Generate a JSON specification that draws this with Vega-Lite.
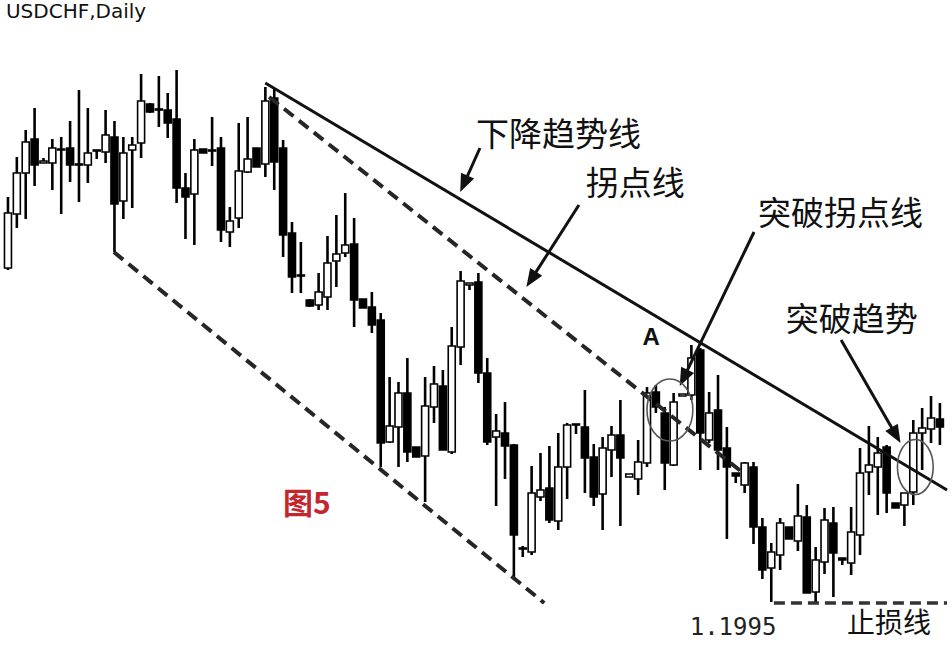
{
  "$schema": "https://vega.github.io/schema/vega-lite/v6.json",
  "width": 952,
  "height": 656,
  "padding": 0,
  "autosize": {"type": "none"},
  "background": "#ffffff",
  "config": {"view": {"stroke": null}},
  "datasets": {
    "candles": [
      {"d":0,"o":1.3670,"h":1.4025,"l":1.3660,"c":1.3945},
      {"d":1,"o":1.3940,"h":1.4225,"l":1.3870,"c":1.4145},
      {"d":2,"o":1.4145,"h":1.4360,"l":1.3915,"c":1.4300},
      {"d":3,"o":1.4315,"h":1.4470,"l":1.4080,"c":1.4185},
      {"d":4,"o":1.4195,"h":1.4220,"l":1.4195,"c":1.4205},
      {"d":5,"o":1.4195,"h":1.4315,"l":1.4060,"c":1.4270},
      {"d":6,"o":1.4260,"h":1.4325,"l":1.3940,"c":1.4265},
      {"d":7,"o":1.4270,"h":1.4405,"l":1.4100,"c":1.4185},
      {"d":8,"o":1.4190,"h":1.4560,"l":1.4000,"c":1.4185},
      {"d":9,"o":1.4185,"h":1.4470,"l":1.4095,"c":1.4245},
      {"d":10,"o":1.4255,"h":1.4260,"l":1.4215,"c":1.4260},
      {"d":11,"o":1.4250,"h":1.4460,"l":1.4195,"c":1.4335},
      {"d":12,"o":1.4325,"h":1.4405,"l":1.3750,"c":1.3990},
      {"d":13,"o":1.4005,"h":1.4325,"l":1.3915,"c":1.4245},
      {"d":14,"o":1.4260,"h":1.4325,"l":1.3970,"c":1.4285},
      {"d":15,"o":1.4295,"h":1.4640,"l":1.4220,"c":1.4505},
      {"d":16,"o":1.4490,"h":1.4495,"l":1.4445,"c":1.4450},
      {"d":17,"o":1.4465,"h":1.4630,"l":1.4375,"c":1.4460},
      {"d":18,"o":1.4460,"h":1.4545,"l":1.4320,"c":1.4395},
      {"d":19,"o":1.4415,"h":1.4660,"l":1.3995,"c":1.4070},
      {"d":20,"o":1.4070,"h":1.4145,"l":1.3815,"c":1.4025},
      {"d":21,"o":1.4040,"h":1.4315,"l":1.3785,"c":1.4260},
      {"d":22,"o":1.4265,"h":1.4265,"l":1.4245,"c":1.4245},
      {"d":23,"o":1.4255,"h":1.4425,"l":1.4180,"c":1.4260},
      {"d":24,"o":1.4270,"h":1.4325,"l":1.3800,"c":1.3860},
      {"d":25,"o":1.3850,"h":1.3975,"l":1.3775,"c":1.3905},
      {"d":26,"o":1.3920,"h":1.4395,"l":1.3870,"c":1.4155},
      {"d":27,"o":1.4150,"h":1.4425,"l":1.4145,"c":1.4215},
      {"d":28,"o":1.4270,"h":1.4270,"l":1.4175,"c":1.4175},
      {"d":29,"o":1.4190,"h":1.4575,"l":1.4125,"c":1.4505},
      {"d":30,"o":1.4520,"h":1.4565,"l":1.4060,"c":1.4200},
      {"d":31,"o":1.4270,"h":1.4310,"l":1.3725,"c":1.3835},
      {"d":32,"o":1.3845,"h":1.3900,"l":1.3545,"c":1.3625},
      {"d":33,"o":1.3630,"h":1.3800,"l":1.3545,"c":1.3635},
      {"d":34,"o":1.3510,"h":1.3515,"l":1.3475,"c":1.3480},
      {"d":35,"o":1.3485,"h":1.3645,"l":1.3460,"c":1.3550},
      {"d":36,"o":1.3525,"h":1.3830,"l":1.3460,"c":1.3695},
      {"d":37,"o":1.3705,"h":1.3935,"l":1.3575,"c":1.3740},
      {"d":38,"o":1.3745,"h":1.4045,"l":1.3725,"c":1.3785},
      {"d":39,"o":1.3790,"h":1.3920,"l":1.3375,"c":1.3510},
      {"d":40,"o":1.3515,"h":1.3515,"l":1.3470,"c":1.3470},
      {"d":41,"o":1.3475,"h":1.3550,"l":1.3345,"c":1.3385},
      {"d":42,"o":1.3410,"h":1.3445,"l":1.2675,"c":1.2795},
      {"d":43,"o":1.2800,"h":1.3125,"l":1.2795,"c":1.2880},
      {"d":44,"o":1.2875,"h":1.3100,"l":1.2675,"c":1.3045},
      {"d":45,"o":1.3045,"h":1.3220,"l":1.2700,"c":1.2750},
      {"d":46,"o":1.2775,"h":1.2775,"l":1.2725,"c":1.2725},
      {"d":47,"o":1.2730,"h":1.3125,"l":1.2500,"c":1.2980},
      {"d":48,"o":1.2975,"h":1.3180,"l":1.2895,"c":1.3090},
      {"d":49,"o":1.3080,"h":1.3160,"l":1.2760,"c":1.2760},
      {"d":50,"o":1.2750,"h":1.3375,"l":1.2740,"c":1.3280},
      {"d":51,"o":1.3275,"h":1.3655,"l":1.3185,"c":1.3605},
      {"d":52,"o":1.3585,"h":1.3595,"l":1.3560,"c":1.3595},
      {"d":53,"o":1.3600,"h":1.3645,"l":1.3095,"c":1.3145},
      {"d":54,"o":1.3145,"h":1.3220,"l":1.2785,"c":1.2800},
      {"d":55,"o":1.2825,"h":1.2940,"l":1.2480,"c":1.2855},
      {"d":56,"o":1.2845,"h":1.3000,"l":1.2615,"c":1.2780},
      {"d":57,"o":1.2785,"h":1.2790,"l":1.2125,"c":1.2335},
      {"d":58,"o":1.2265,"h":1.2280,"l":1.2225,"c":1.2270},
      {"d":59,"o":1.2250,"h":1.2680,"l":1.2235,"c":1.2545},
      {"d":60,"o":1.2525,"h":1.2745,"l":1.2505,"c":1.2560},
      {"d":61,"o":1.2570,"h":1.2780,"l":1.2395,"c":1.2410},
      {"d":62,"o":1.2405,"h":1.2845,"l":1.2360,"c":1.2675},
      {"d":63,"o":1.2675,"h":1.2895,"l":1.2515,"c":1.2885},
      {"d":64,"o":1.2885,"h":1.2890,"l":1.2840,"c":1.2890},
      {"d":65,"o":1.2875,"h":1.3060,"l":1.2545,"c":1.2720},
      {"d":66,"o":1.2725,"h":1.2790,"l":1.2480,"c":1.2525},
      {"d":67,"o":1.2540,"h":1.2825,"l":1.2360,"c":1.2770},
      {"d":68,"o":1.2760,"h":1.2880,"l":1.2625,"c":1.2835},
      {"d":69,"o":1.2835,"h":1.3010,"l":1.2380,"c":1.2720},
      {"d":70,"o":1.2625,"h":1.2640,"l":1.2625,"c":1.2640},
      {"d":71,"o":1.2615,"h":1.2810,"l":1.2535,"c":1.2700},
      {"d":72,"o":1.2695,"h":1.3075,"l":1.2675,"c":1.3045},
      {"d":73,"o":1.3050,"h":1.3085,"l":1.2945,"c":1.2975},
      {"d":74,"o":1.2945,"h":1.2975,"l":1.2560,"c":1.2695},
      {"d":75,"o":1.2685,"h":1.3045,"l":1.2680,"c":1.3000},
      {"d":76,"o":1.3030,"h":1.3040,"l":1.3030,"c":1.3040},
      {"d":77,"o":1.3035,"h":1.3285,"l":1.3010,"c":1.3220},
      {"d":78,"o":1.3260,"h":1.3270,"l":1.2660,"c":1.2845},
      {"d":79,"o":1.2810,"h":1.3050,"l":1.2795,"c":1.2945},
      {"d":80,"o":1.2960,"h":1.3135,"l":1.2660,"c":1.2760},
      {"d":81,"o":1.2770,"h":1.2875,"l":1.2315,"c":1.2675},
      {"d":82,"o":1.2645,"h":1.2645,"l":1.2595,"c":1.2630},
      {"d":83,"o":1.2585,"h":1.2700,"l":1.2545,"c":1.2695},
      {"d":84,"o":1.2675,"h":1.2700,"l":1.2290,"c":1.2375},
      {"d":85,"o":1.2375,"h":1.2420,"l":1.2115,"c":1.2160},
      {"d":86,"o":1.2170,"h":1.2295,"l":1.2000,"c":1.2250},
      {"d":87,"o":1.2235,"h":1.2420,"l":1.2160,"c":1.2395},
      {"d":88,"o":1.2375,"h":1.2375,"l":1.2315,"c":1.2315},
      {"d":89,"o":1.2305,"h":1.2590,"l":1.2255,"c":1.2430},
      {"d":90,"o":1.2425,"h":1.2485,"l":1.2045,"c":1.2045},
      {"d":91,"o":1.2050,"h":1.2275,"l":1.1995,"c":1.2210},
      {"d":92,"o":1.2200,"h":1.2470,"l":1.2140,"c":1.2410},
      {"d":93,"o":1.2395,"h":1.2475,"l":1.2025,"c":1.2245},
      {"d":94,"o":1.2220,"h":1.2220,"l":1.2185,"c":1.2210},
      {"d":95,"o":1.2195,"h":1.2475,"l":1.2135,"c":1.2350},
      {"d":96,"o":1.2335,"h":1.2770,"l":1.2235,"c":1.2645},
      {"d":97,"o":1.2650,"h":1.2880,"l":1.2535,"c":1.2685},
      {"d":98,"o":1.2675,"h":1.2825,"l":1.2435,"c":1.2745},
      {"d":99,"o":1.2775,"h":1.2785,"l":1.2445,"c":1.2545},
      {"d":100,"o":1.2495,"h":1.2495,"l":1.2470,"c":1.2470},
      {"d":101,"o":1.2485,"h":1.2545,"l":1.2380,"c":1.2545},
      {"d":102,"o":1.2550,"h":1.2910,"l":1.2485,"c":1.2845},
      {"d":103,"o":1.2845,"h":1.2970,"l":1.2660,"c":1.2870},
      {"d":104,"o":1.2865,"h":1.3030,"l":1.2795,"c":1.2920},
      {"d":105,"o":1.2915,"h":1.2995,"l":1.2785,"c":1.2875}
    ],
    "arrows": [
      {"name":"下降趋势线","x0":53.18,"y0":1.4270,"x1":51.37,"y1":1.4091},
      {"name":"拐点线","x0":64.33,"y0":1.3985,"x1":58.96,"y1":1.3613},
      {"name":"突破拐点线","x0":84.06,"y0":1.3850,"x1":76.13,"y1":1.31205},
      {"name":"突破趋势","x0":93.87,"y0":1.3310,"x1":100.06,"y1":1.2834}
    ]
  },
  "layer": [
    {
      "data": {"name": "candles"},
      "mark": {"type": "rule", "strokeWidth": 2.6, "color": "#000"},
      "encoding": {
        "x": {"field": "d", "type": "quantitative", "scale": {"domain": [-0.334, 105.8], "nice": false, "zero": false}, "axis": null},
        "y": {"field": "l", "type": "quantitative", "scale": {"domain": [1.173, 1.501], "nice": false, "zero": false}, "axis": null},
        "y2": {"field": "h"}
      }
    },
    {
      "data": {"name": "candles"},
      "mark": {"type": "bar", "size": 7, "stroke": "#000", "strokeWidth": 1.6},
      "encoding": {
        "x": {"field": "d", "type": "quantitative", "scale": {"domain": [-0.334, 105.8], "nice": false, "zero": false}, "axis": null},
        "y": {"field": "o", "type": "quantitative", "scale": {"domain": [1.173, 1.501], "nice": false, "zero": false}, "axis": null},
        "y2": {"field": "c"},
        "fill": {"condition": {"test": "datum.c < datum.o", "value": "#000000"}, "value": "#ffffff"}
      }
    },
    {
      "data": {"values": [
        {"line": "下降趋势线", "day": 28.99, "price": 1.4595},
        {"line": "下降趋势线", "day": 105.8, "price": 1.2560}
      ]},
      "mark": {"type": "line", "strokeWidth": 3, "color": "#111", "clip": true},
      "encoding": {
        "x": {"field": "day", "type": "quantitative", "scale": {"domain": [-0.334, 105.8], "nice": false, "zero": false}, "axis": null},
        "y": {"field": "price", "type": "quantitative", "scale": {"domain": [1.173, 1.501], "nice": false, "zero": false}, "axis": null},
        "detail": {"field": "line"}
      }
    },
    {
      "data": {"values": [
        {"line": "拐点线", "day": 29.43, "price": 1.4525},
        {"line": "拐点线", "day": 82.7, "price": 1.2650},
        {"line": "通道线", "day": 11.93, "price": 1.3750},
        {"line": "通道线", "day": 60.42, "price": 1.1995}
      ]},
      "mark": {"type": "line", "strokeWidth": 4, "color": "#262626", "strokeDash": [12, 7]},
      "encoding": {
        "x": {"field": "day", "type": "quantitative", "scale": {"domain": [-0.334, 105.8], "nice": false, "zero": false}, "axis": null},
        "y": {"field": "price", "type": "quantitative", "scale": {"domain": [1.173, 1.501], "nice": false, "zero": false}, "axis": null},
        "detail": {"field": "line"}
      }
    },
    {
      "data": {"values": [
        {"line": "止损线", "day": 86.3, "price": 1.1995},
        {"line": "止损线", "day": 105.8, "price": 1.1995}
      ]},
      "mark": {"type": "line", "strokeWidth": 3.5, "color": "#333", "strokeDash": [11, 6]},
      "encoding": {
        "x": {"field": "day", "type": "quantitative", "scale": {"domain": [-0.334, 105.8], "nice": false, "zero": false}, "axis": null},
        "y": {"field": "price", "type": "quantitative", "scale": {"domain": [1.173, 1.501], "nice": false, "zero": false}, "axis": null},
        "detail": {"field": "line"}
      }
    },
    {
      "data": {"name": "arrows"},
      "mark": {"type": "rule", "strokeWidth": 3, "color": "#111"},
      "encoding": {
        "x": {"field": "x0", "type": "quantitative", "scale": {"domain": [-0.334, 105.8], "nice": false, "zero": false}, "axis": null},
        "y": {"field": "y0", "type": "quantitative", "scale": {"domain": [1.173, 1.501], "nice": false, "zero": false}, "axis": null},
        "x2": {"field": "x1"},
        "y2": {"field": "y1"}
      }
    },
    {
      "data": {"name": "arrows"},
      "transform": [{"filter": "datum.name === '下降趋势线'"}],
      "mark": {"type": "point", "shape": "M0,-1L0.8,1L-0.8,1Z", "filled": true, "color": "#111", "opacity": 1, "size": 324, "angle": 204},
      "encoding": {
        "x": {"field": "x1", "type": "quantitative", "scale": {"domain": [-0.334, 105.8], "nice": false, "zero": false}, "axis": null},
        "y": {"field": "y1", "type": "quantitative", "scale": {"domain": [1.173, 1.501], "nice": false, "zero": false}, "axis": null}
      }
    },
    {
      "data": {"name": "arrows"},
      "transform": [{"filter": "datum.name === '拐点线'"}],
      "mark": {"type": "point", "shape": "M0,-1L0.8,1L-0.8,1Z", "filled": true, "color": "#111", "opacity": 1, "size": 324, "angle": 213},
      "encoding": {
        "x": {"field": "x1", "type": "quantitative", "scale": {"domain": [-0.334, 105.8], "nice": false, "zero": false}, "axis": null},
        "y": {"field": "y1", "type": "quantitative", "scale": {"domain": [1.173, 1.501], "nice": false, "zero": false}, "axis": null}
      }
    },
    {
      "data": {"name": "arrows"},
      "transform": [{"filter": "datum.name === '突破拐点线'"}],
      "mark": {"type": "point", "shape": "M0,-1L0.8,1L-0.8,1Z", "filled": true, "color": "#111", "opacity": 1, "size": 324, "angle": 206},
      "encoding": {
        "x": {"field": "x1", "type": "quantitative", "scale": {"domain": [-0.334, 105.8], "nice": false, "zero": false}, "axis": null},
        "y": {"field": "y1", "type": "quantitative", "scale": {"domain": [1.173, 1.501], "nice": false, "zero": false}, "axis": null}
      }
    },
    {
      "data": {"name": "arrows"},
      "transform": [{"filter": "datum.name === '突破趋势'"}],
      "mark": {"type": "point", "shape": "M0,-1L0.8,1L-0.8,1Z", "filled": true, "color": "#111", "opacity": 1, "size": 324, "angle": 150},
      "encoding": {
        "x": {"field": "x1", "type": "quantitative", "scale": {"domain": [-0.334, 105.8], "nice": false, "zero": false}, "axis": null},
        "y": {"field": "y1", "type": "quantitative", "scale": {"domain": [1.173, 1.501], "nice": false, "zero": false}, "axis": null}
      }
    },
    {
      "data": {"values": [{"name": "A", "day": 74.58, "price": 1.2960}]},
      "mark": {"type": "point", "shape": "M-0.74,0A0.74,1,0,1,1,0.74,0A0.74,1,0,1,1,-0.74,0Z", "filled": false, "stroke": "#555", "strokeWidth": 1.6, "opacity": 1, "size": 3844},
      "encoding": {
        "x": {"field": "day", "type": "quantitative", "scale": {"domain": [-0.334, 105.8], "nice": false, "zero": false}, "axis": null},
        "y": {"field": "price", "type": "quantitative", "scale": {"domain": [1.173, 1.501], "nice": false, "zero": false}, "axis": null}
      }
    },
    {
      "data": {"values": [{"name": "突破", "day": 102.23, "price": 1.2675}]},
      "mark": {"type": "point", "shape": "M-0.65,0A0.65,1,0,1,1,0.65,0A0.65,1,0,1,1,-0.65,0Z", "filled": false, "stroke": "#555", "strokeWidth": 1.6, "opacity": 1, "size": 3025},
      "encoding": {
        "x": {"field": "day", "type": "quantitative", "scale": {"domain": [-0.334, 105.8], "nice": false, "zero": false}, "axis": null},
        "y": {"field": "price", "type": "quantitative", "scale": {"domain": [1.173, 1.501], "nice": false, "zero": false}, "axis": null}
      }
    },
    {
      "data": {"values": [
        {"label": "下降趋势线", "day": 52.73, "price": 1.4330},
        {"label": "拐点线", "day": 65.11, "price": 1.4085},
        {"label": "突破拐点线", "day": 84.50, "price": 1.3935},
        {"label": "突破趋势", "day": 87.63, "price": 1.3405}
      ]},
      "mark": {"type": "text", "align": "left", "baseline": "middle", "font": "Noto Sans CJK SC", "fontSize": 33, "color": "#111"},
      "encoding": {
        "x": {"field": "day", "type": "quantitative", "scale": {"domain": [-0.334, 105.8], "nice": false, "zero": false}, "axis": null},
        "y": {"field": "price", "type": "quantitative", "scale": {"domain": [1.173, 1.501], "nice": false, "zero": false}, "axis": null},
        "text": {"field": "label"}
      }
    },
    {
      "data": {"values": [{"label": "止损线", "day": 94.54, "price": 1.1885}]},
      "mark": {"type": "text", "align": "left", "baseline": "middle", "font": "Noto Sans CJK SC", "fontSize": 28, "color": "#111"},
      "encoding": {
        "x": {"field": "day", "type": "quantitative", "scale": {"domain": [-0.334, 105.8], "nice": false, "zero": false}, "axis": null},
        "y": {"field": "price", "type": "quantitative", "scale": {"domain": [1.173, 1.501], "nice": false, "zero": false}, "axis": null},
        "text": {"field": "label"}
      }
    },
    {
      "data": {"values": [{"label": "图5", "day": 30.99, "price": 1.2485}]},
      "mark": {"type": "text", "align": "left", "baseline": "middle", "font": "Noto Sans CJK SC", "fontSize": 30, "fontWeight": "bold", "color": "#c4262e"},
      "encoding": {
        "x": {"field": "day", "type": "quantitative", "scale": {"domain": [-0.334, 105.8], "nice": false, "zero": false}, "axis": null},
        "y": {"field": "price", "type": "quantitative", "scale": {"domain": [1.173, 1.501], "nice": false, "zero": false}, "axis": null},
        "text": {"field": "label"}
      }
    },
    {
      "data": {"values": [{"label": "A", "day": 72.46, "price": 1.3320}]},
      "mark": {"type": "text", "align": "center", "baseline": "middle", "font": "Liberation Sans", "fontSize": 24, "fontWeight": "bold", "color": "#111"},
      "encoding": {
        "x": {"field": "day", "type": "quantitative", "scale": {"domain": [-0.334, 105.8], "nice": false, "zero": false}, "axis": null},
        "y": {"field": "price", "type": "quantitative", "scale": {"domain": [1.173, 1.501], "nice": false, "zero": false}, "axis": null},
        "text": {"field": "label"}
      }
    },
    {
      "data": {"values": [{"label": "1.1995", "day": 76.81, "price": 1.1870}]},
      "mark": {"type": "text", "align": "left", "baseline": "middle", "font": "DejaVu Sans Mono", "fontSize": 24, "color": "#222"},
      "encoding": {
        "x": {"field": "day", "type": "quantitative", "scale": {"domain": [-0.334, 105.8], "nice": false, "zero": false}, "axis": null},
        "y": {"field": "price", "type": "quantitative", "scale": {"domain": [1.173, 1.501], "nice": false, "zero": false}, "axis": null},
        "text": {"field": "label"}
      }
    },
    {
      "data": {"values": [{"label": "USDCHF,Daily", "day": -0.223, "price": 1.4950}]},
      "mark": {"type": "text", "align": "left", "baseline": "middle", "font": "DejaVu Sans", "fontSize": 20, "color": "#111"},
      "encoding": {
        "x": {"field": "day", "type": "quantitative", "scale": {"domain": [-0.334, 105.8], "nice": false, "zero": false}, "axis": null},
        "y": {"field": "price", "type": "quantitative", "scale": {"domain": [1.173, 1.501], "nice": false, "zero": false}, "axis": null},
        "text": {"field": "label"}
      }
    }
  ]
}
